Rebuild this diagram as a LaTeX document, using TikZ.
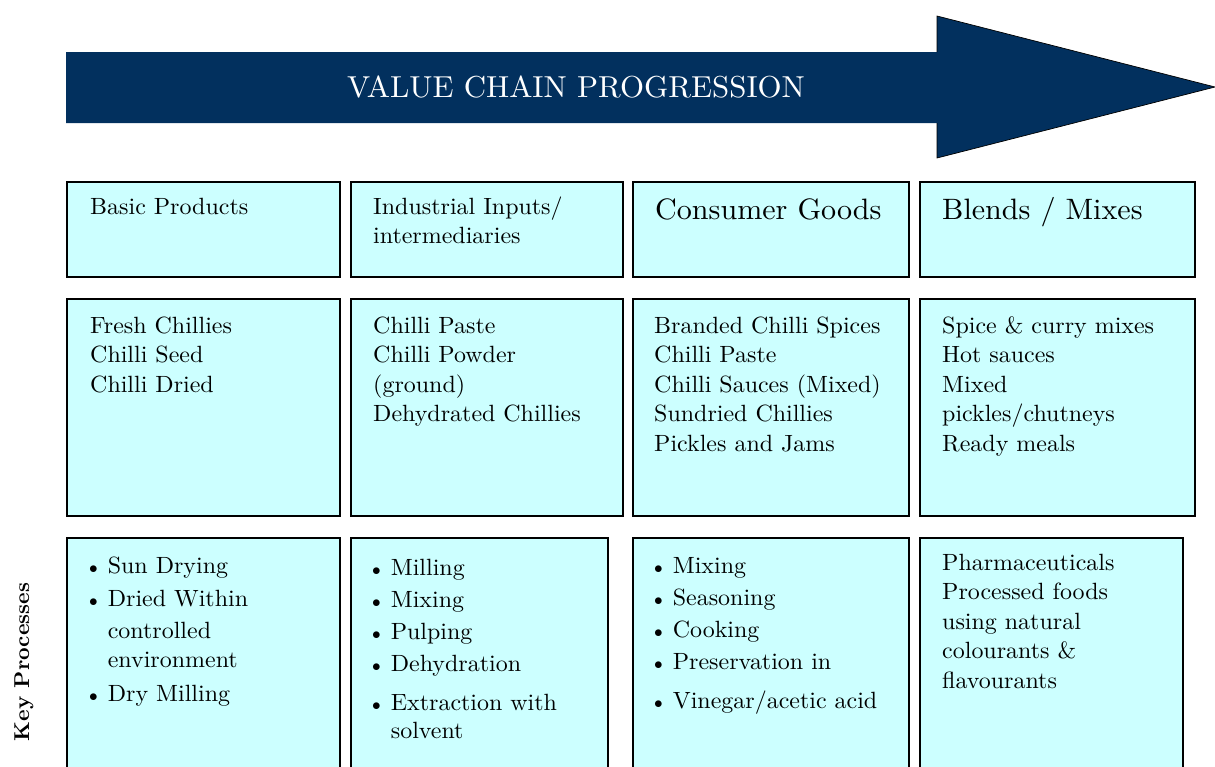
\documentclass[tikz,border=0pt]{standalone}
\usepackage{fontspec}
\setmainfont{lmroman10-regular}[Extension=.otf, BoldFont=lmroman10-bold, FakeStretch=1.02]
\usepackage{array}
\definecolor{navy}{RGB}{2,48,94}
\definecolor{cyanfill}{RGB}{204,255,255}
\newcommand{\bul}{{\fontsize{19}{19}\selectfont$\bullet$}}
\tikzset{
  cell/.style={draw=black, line width=1.6pt, fill=cyanfill, anchor=north west, inner sep=0pt},
  txt/.style={anchor=base west, inner sep=0pt, align=left, font=\fontsize{23.5}{29.5}\selectfont},
  bigtxt/.style={anchor=base west, inner sep=0pt, font=\fontsize{29.5}{34}\selectfont},
  listtxt/.style={anchor=base west, inner sep=0pt, font=\fontsize{23.5}{32}\selectfont},
  arrowfill/.style={fill=navy},
  titletxt/.style={text=white, inner sep=0pt, font=\fontsize{30.3}{32}\selectfont},
  sidetxt/.style={rotate=90, inner sep=0pt, font=\bfseries\fontsize{21.5}{24}\selectfont}
}
\begin{document}
\begin{tikzpicture}[x=1pt,y=-1pt]
\useasboundingbox (0,0) rectangle (1215,766);

% arrow
\path[arrowfill] (66,52) -- (937,52) -- (937,16) -- (1215,87) -- (937,158) -- (937,123) -- (66,123) -- cycle;
\draw[black, line width=0.7pt] (937,52) -- (937,16) -- (1215,87) -- (937,158) -- (937,123);
\node[titletxt] (title) at (576,87) {VALUE CHAIN PROGRESSION};

% row 1
\node[cell, minimum width=273pt, minimum height=95pt] (h1) at (66,181) {};
\node[cell, minimum width=272pt, minimum height=95pt] (h2) at (350,181) {};
\node[cell, minimum width=276pt, minimum height=95pt] (h3) at (632,181) {};
\node[cell, minimum width=275pt, minimum height=95pt] (h4) at (919,181) {};
\node[txt] (th1) at (90,214) {Basic Products};
\node[txt] (th2) at (373,214) {\begin{tabular}[t]{@{}l@{}}Industrial Inputs/\\intermediaries\end{tabular}};
\node[bigtxt] (th3) at (655,219) {Consumer Goods};
\node[bigtxt] (th4) at (942,219) {Blends / Mixes};

% row 2
\node[cell, minimum width=273pt, minimum height=217pt] (p1) at (66,298) {};
\node[cell, minimum width=272pt, minimum height=217pt] (p2) at (350,298) {};
\node[cell, minimum width=276pt, minimum height=217pt] (p3) at (632,298) {};
\node[cell, minimum width=275pt, minimum height=217pt] (p4) at (919,298) {};
\node[txt] (tp1) at (90,333) {\begin{tabular}[t]{@{}l@{}}Fresh Chillies\\Chilli Seed\\Chilli Dried\end{tabular}};
\node[txt] (tp2) at (373,333) {\begin{tabular}[t]{@{}l@{}}Chilli Paste\\Chilli Powder\\(ground)\\Dehydrated Chillies\end{tabular}};
\node[txt] (tp3) at (654,333) {\begin{tabular}[t]{@{}l@{}}Branded Chilli Spices\\Chilli Paste\\Chilli Sauces (Mixed)\\Sundried Chillies\\Pickles and Jams\end{tabular}};
\node[txt] (tp4) at (942,333) {\begin{tabular}[t]{@{}l@{}}Spice \& curry mixes\\Hot sauces\\Mixed\\pickles/chutneys\\Ready meals\end{tabular}};

% row 3
\node[cell, minimum width=273pt, minimum height=260pt] (k1) at (66,537) {};
\node[cell, minimum width=257pt, minimum height=260pt] (k2) at (350,537) {};
\node[cell, minimum width=276pt, minimum height=260pt] (k3) at (632,537) {};
\node[cell, minimum width=263pt, minimum height=260pt] (k4) at (919,537) {};
\node[listtxt] (tk1) at (89,573) {\begin{tabular}[t]{@{}l@{\hspace{10pt}}l@{}}\bul & Sun Drying\\[1pt]\bul & Dried Within\\ & controlled\\[-3pt] & environment\\[2pt]\bul & Dry Milling\end{tabular}};
\node[listtxt] (tk2) at (372,575) {\begin{tabular}[t]{@{}l@{\hspace{10pt}}l@{}}\bul & Milling\\\bul & Mixing\\\bul & Pulping\\\bul & Dehydration\\[7pt]\bul & Extraction with\\[-4pt] & solvent\end{tabular}};
\node[listtxt] (tk3) at (654,573) {\begin{tabular}[t]{@{}l@{\hspace{10pt}}l@{}}\bul & Mixing\\\bul & Seasoning\\\bul & Cooking\\\bul & Preservation in\\[7pt]\bul & Vinegar/acetic acid\end{tabular}};
\node[txt] (tk4) at (942,570) {\begin{tabular}[t]{@{}l@{}}Pharmaceuticals\\Processed foods\\using natural\\colourants \&\\flavourants\end{tabular}};

\node[sidetxt] (kp) at (24,662) {Key Processes};
\end{tikzpicture}
\end{document}
